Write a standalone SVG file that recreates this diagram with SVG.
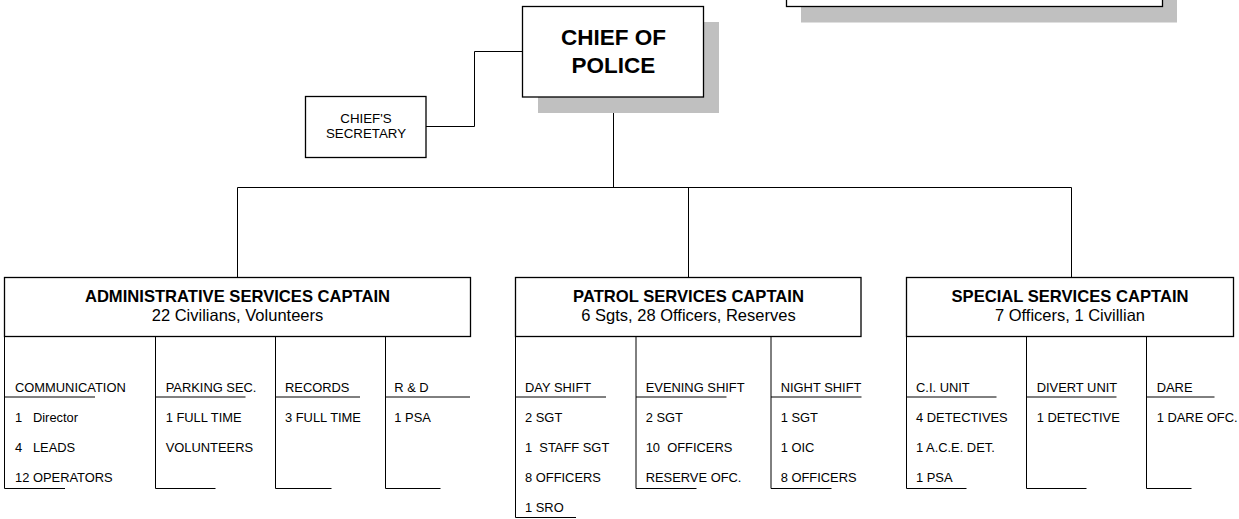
<svg xmlns="http://www.w3.org/2000/svg" width="1239" height="519" viewBox="0 0 1239 519">
<style>
.box{fill:#fff;stroke:#000;stroke-width:1.3}
.shadow{fill:#c0c0c0;stroke:none}
.ln{fill:none;stroke:#000;stroke-width:1}
.t{font-family:"Liberation Sans",Arial,sans-serif;fill:#000}
.chief{font-size:22.5px;font-weight:bold;text-anchor:middle}
.sec{font-size:13.3px;text-anchor:middle}
.capt{font-size:16.6px;font-weight:bold;text-anchor:middle}
.sub{font-size:16.5px;text-anchor:middle}
.it{font-size:12.9px}
</style>
<rect width="1239" height="519" fill="#fff"/>
<g id="top-box">
<rect class="shadow" x="801" y="-40" width="376" height="62.5"/>
<rect class="box" x="786.5" y="-50" width="376" height="56.5"/>
</g>
<g id="connectors">
<path class="ln" d="M426,126.5 H474.5 V51.5 H522.5"/>
<path class="ln" d="M613.5,97 V187.5"/>
<path class="ln" d="M237.5,187.5 H1071.5"/>
<path class="ln" d="M237.5,187.5 V277.5"/>
<path class="ln" d="M688.5,187.5 V277.5"/>
<path class="ln" d="M1071.5,187.5 V277.5"/>
</g>
<g id="chief">
<rect class="shadow" x="538" y="22" width="181" height="91"/>
<rect class="box" x="522.5" y="6.5" width="181" height="90.5"/>
<text class="t chief" x="613.5" y="45">CHIEF OF</text>
<text class="t chief" x="613.5" y="73">POLICE</text>
</g>
<g id="secretary">
<rect class="box" x="305.5" y="96.5" width="120.5" height="61"/>
<text class="t sec" x="366" y="122.7">CHIEF'S</text>
<text class="t sec" x="366" y="138.3">SECRETARY</text>
</g>
<g id="admin">
<rect class="box" x="4.5" y="277.5" width="466" height="59"/>
<text class="t capt" x="237.5" y="301.7">ADMINISTRATIVE SERVICES CAPTAIN</text>
<text class="t sub" x="237.5" y="320.7">22 Civilians, Volunteers</text>
</g>
<g id="admin-communication">
<path class="ln" d="M4.5,336.5 V488.5 H65 M4.5,397 H95"/>
<text class="t it" x="15" y="391.7">COMMUNICATION</text>
<text class="t it" x="15" y="421.7" xml:space="preserve">1   Director</text>
<text class="t it" x="15" y="451.7" xml:space="preserve">4   LEADS</text>
<text class="t it" x="15" y="481.7">12 OPERATORS</text>
</g>
<g id="admin-parking">
<path class="ln" d="M155.5,336.5 V488.5 H215.5 M155.5,397 H245.5"/>
<text class="t it" x="165.7" y="391.7">PARKING SEC.</text>
<text class="t it" x="165.7" y="421.7">1 FULL TIME</text>
<text class="t it" x="165.7" y="451.7">VOLUNTEERS</text>
</g>
<g id="admin-records">
<path class="ln" d="M275.5,336.5 V488.5 H331.5 M275.5,397 H360"/>
<text class="t it" x="285" y="391.7">RECORDS</text>
<text class="t it" x="285" y="421.7">3 FULL TIME</text>
</g>
<g id="admin-rd">
<path class="ln" d="M385.5,336.5 V488.5 H440.5 M385.5,397 H470"/>
<text class="t it" x="394.3" y="391.7">R &amp; D</text>
<text class="t it" x="394.3" y="421.7">1 PSA</text>
</g>
<g id="patrol">
<rect class="box" x="515.5" y="277.5" width="345.5" height="59"/>
<text class="t capt" x="688.5" y="301.7">PATROL SERVICES CAPTAIN</text>
<text class="t sub" x="688.5" y="320.7">6 Sgts, 28 Officers, Reserves</text>
</g>
<g id="patrol-day">
<path class="ln" d="M515.5,336.5 V517.5 H576 M515.5,397 H606"/>
<text class="t it" x="525" y="391.7">DAY SHIFT</text>
<text class="t it" x="525" y="421.7">2 SGT</text>
<text class="t it" x="525" y="451.7" xml:space="preserve">1  STAFF SGT</text>
<text class="t it" x="525" y="481.7">8 OFFICERS</text>
<text class="t it" x="525" y="511.7">1 SRO</text>
</g>
<g id="patrol-evening">
<path class="ln" d="M636,336.5 V488.5 H696.5 M636,397 H726.5"/>
<text class="t it" x="645.7" y="391.7">EVENING SHIFT</text>
<text class="t it" x="645.7" y="421.7">2 SGT</text>
<text class="t it" x="645.7" y="451.7" xml:space="preserve">10  OFFICERS</text>
<text class="t it" x="645.7" y="481.7">RESERVE OFC.</text>
</g>
<g id="patrol-night">
<path class="ln" d="M771,336.5 V488.5 H831.5 M771,397 H861.5"/>
<text class="t it" x="780.7" y="391.7">NIGHT SHIFT</text>
<text class="t it" x="780.7" y="421.7">1 SGT</text>
<text class="t it" x="780.7" y="451.7">1 OIC</text>
<text class="t it" x="780.7" y="481.7">8 OFFICERS</text>
</g>
<g id="special">
<rect class="box" x="906.5" y="277.5" width="327" height="59"/>
<text class="t capt" x="1070" y="301.7">SPECIAL SERVICES CAPTAIN</text>
<text class="t sub" x="1070" y="320.7">7 Officers, 1 Civillian</text>
</g>
<g id="special-ci">
<path class="ln" d="M906.5,336.5 V488.5 H966.5 M906.5,397 H996.5"/>
<text class="t it" x="916" y="391.7">C.I. UNIT</text>
<text class="t it" x="916" y="421.7">4 DETECTIVES</text>
<text class="t it" x="916" y="451.7">1 A.C.E. DET.</text>
<text class="t it" x="916" y="481.7">1 PSA</text>
</g>
<g id="special-divert">
<path class="ln" d="M1026.5,336.5 V488.5 H1086.5 M1026.5,397 H1116.5"/>
<text class="t it" x="1036.7" y="391.7">DIVERT UNIT</text>
<text class="t it" x="1036.7" y="421.7">1 DETECTIVE</text>
</g>
<g id="special-dare">
<path class="ln" d="M1146.5,336.5 V488.5 H1191.5 M1146.5,397 H1214.5"/>
<text class="t it" x="1156.7" y="391.7">DARE</text>
<text class="t it" x="1156.7" y="421.7">1 DARE OFC.</text>
</g>
</svg>
